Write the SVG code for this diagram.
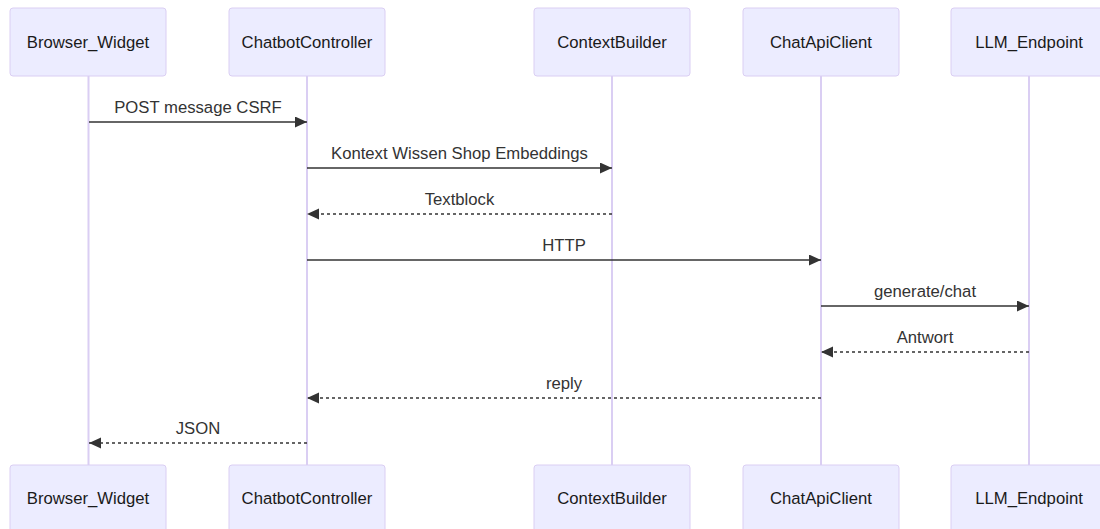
<svg xmlns="http://www.w3.org/2000/svg" width="1100" height="529" viewBox="0 0 1100 529">
  <style>
    .actor { fill: #ECECFF; stroke: #DACEF3; stroke-width: 1; }
    .actor-text { font-family: "Liberation Sans", Arial, sans-serif; font-size: 16.7px; fill: #1a1a1a; text-anchor: middle; dominant-baseline: central; }
    .lifeline { stroke: #DACEF3; stroke-width: 2; }
    .msg { stroke: #333333; stroke-width: 1.5; fill: none; }
    .msg.dotted { stroke-dasharray: 3 3; }
    .msg-text { font-family: "Liberation Sans", Arial, sans-serif; font-size: 16.7px; fill: #333333; text-anchor: middle; }
  </style>
  <defs>
    <marker id="arrowhead" markerUnits="userSpaceOnUse" markerWidth="13" markerHeight="13" refX="12" refY="5.5" orient="auto">
      <path d="M0,0 L12,5.5 L0,11 z" fill="#333333"/>
    </marker>
  </defs>
  <rect width="1100" height="529" fill="#ffffff"/>

  <!-- lifelines -->
  <g id="lifelines">
    <line class="lifeline" x1="88.5" y1="76" x2="88.5" y2="465"/>
    <line class="lifeline" x1="307" y1="76" x2="307" y2="465"/>
    <line class="lifeline" x1="612" y1="76" x2="612" y2="465"/>
    <line class="lifeline" x1="821" y1="76" x2="821" y2="465"/>
    <line class="lifeline" x1="1029" y1="76" x2="1029" y2="465"/>
  </g>

  <!-- participants (top and bottom) -->
  <g id="browser_widget">
    <rect class="actor" x="10" y="8" width="156" height="68" rx="3"/>
    <text class="actor-text" x="88" y="42">Browser_Widget</text>
    <rect class="actor" x="10" y="465" width="156" height="68" rx="3"/>
    <text class="actor-text" x="88" y="498">Browser_Widget</text>
  </g>
  <g id="chatbot_controller">
    <rect class="actor" x="229" y="8" width="156" height="68" rx="3"/>
    <text class="actor-text" x="307" y="42">ChatbotController</text>
    <rect class="actor" x="229" y="465" width="156" height="68" rx="3"/>
    <text class="actor-text" x="307" y="498">ChatbotController</text>
  </g>
  <g id="context_builder">
    <rect class="actor" x="534" y="8" width="156" height="68" rx="3"/>
    <text class="actor-text" x="612" y="42">ContextBuilder</text>
    <rect class="actor" x="534" y="465" width="156" height="68" rx="3"/>
    <text class="actor-text" x="612" y="498">ContextBuilder</text>
  </g>
  <g id="chat_api_client">
    <rect class="actor" x="743" y="8" width="156" height="68" rx="3"/>
    <text class="actor-text" x="821" y="42">ChatApiClient</text>
    <rect class="actor" x="743" y="465" width="156" height="68" rx="3"/>
    <text class="actor-text" x="821" y="498">ChatApiClient</text>
  </g>
  <g id="llm_endpoint">
    <rect class="actor" x="951" y="8" width="156" height="68" rx="3"/>
    <text class="actor-text" x="1029" y="42">LLM_Endpoint</text>
    <rect class="actor" x="951" y="465" width="156" height="68" rx="3"/>
    <text class="actor-text" x="1029" y="498">LLM_Endpoint</text>
  </g>

  <!-- messages -->
  <g id="connectors">
    <line class="msg" x1="89" y1="122" x2="307" y2="122" marker-end="url(#arrowhead)"/>
    <text class="msg-text" x="198" y="113">POST message CSRF</text>

    <line class="msg" x1="307" y1="168" x2="612" y2="168" marker-end="url(#arrowhead)"/>
    <text class="msg-text" x="459.5" y="159">Kontext Wissen Shop Embeddings</text>

    <line class="msg dotted" x1="612" y1="214" x2="307" y2="214" marker-end="url(#arrowhead)"/>
    <text class="msg-text" x="459.5" y="205">Textblock</text>

    <line class="msg" x1="307" y1="260" x2="821" y2="260" marker-end="url(#arrowhead)"/>
    <text class="msg-text" x="564" y="251">HTTP</text>

    <line class="msg" x1="821" y1="306" x2="1029" y2="306" marker-end="url(#arrowhead)"/>
    <text class="msg-text" x="925" y="297">generate/chat</text>

    <line class="msg dotted" x1="1029" y1="352" x2="821" y2="352" marker-end="url(#arrowhead)"/>
    <text class="msg-text" x="925" y="343">Antwort</text>

    <line class="msg dotted" x1="821" y1="398" x2="307" y2="398" marker-end="url(#arrowhead)"/>
    <text class="msg-text" x="564" y="389">reply</text>

    <line class="msg dotted" x1="307" y1="443" x2="89" y2="443" marker-end="url(#arrowhead)"/>
    <text class="msg-text" x="198" y="434">JSON</text>
  </g>
</svg>
